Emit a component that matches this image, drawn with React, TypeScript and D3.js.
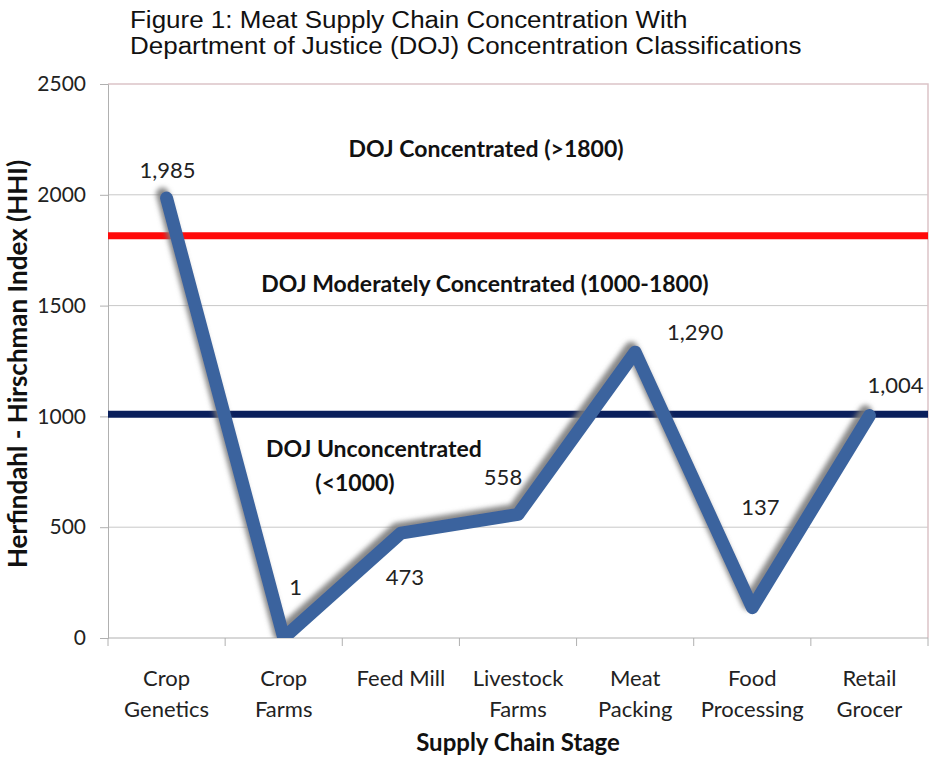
import React, { useEffect, useRef } from "react";
import * as d3 from "d3";

const stages = [
  ["Crop", "Genetics"],
  ["Crop", "Farms"],
  ["Feed Mill"],
  ["Livestock", "Farms"],
  ["Meat", "Packing"],
  ["Food", "Processing"],
  ["Retail", "Grocer"],
];
const hhi = [1985, 1, 473, 558, 1290, 137, 1004];
const yTicks = [0, 500, 1000, 1500, 2000, 2500];
const concentratedLine = 1815; // DOJ >1800 threshold as drawn
const unconcentratedLine = 1010; // DOJ <1000 threshold as drawn

// label placement relative to each point (Excel style)
const labelOffset: [number, number][] = [
  [1, -20],
  [12, -43],
  [4, 52],
  [-15, -29],
  [60, -12],
  [8, -93],
  [26, -23],
];

const App: React.FC = () => {
  const svgRef = useRef<SVGSVGElement | null>(null);

  useEffect(() => {
    const width = 931;
    const height = 757;
    const margin = { top: 84, right: 3, bottom: 119, left: 108 };
    const font = "Lato, 'Noto Sans', sans-serif";

    const svg = d3.select(svgRef.current).attr("width", width).attr("height", height);
    svg.selectAll("*").remove();

    const x = d3
      .scaleBand<number>()
      .domain(d3.range(stages.length))
      .range([margin.left, width - margin.right]);
    const y = d3
      .scaleLinear()
      .domain([0, 2500])
      .range([height - margin.bottom, margin.top]);

    const defs = svg.append("defs");
    const filter = defs
      .append("filter")
      .attr("id", "shadow")
      .attr("x", "-20%")
      .attr("y", "-20%")
      .attr("width", "140%")
      .attr("height", "140%");
    filter
      .append("feDropShadow")
      .attr("dx", -4)
      .attr("dy", -4)
      .attr("stdDeviation", 2.5)
      .attr("flood-color", "#7a7a7a")
      .attr("flood-opacity", 0.9);
    defs
      .append("clipPath")
      .attr("id", "plot")
      .append("rect")
      .attr("x", margin.left)
      .attr("y", margin.top - 10)
      .attr("width", width - margin.left - margin.right)
      .attr("height", y(0) - margin.top + 10);

    // Title (Arial, a little stretched like the original)
    const title = svg
      .append("text")
      .attr("transform", "translate(130,0) scale(1.13,1)")
      .attr("font-family", "'Liberation Sans', Arial, sans-serif")
      .attr("font-size", 23)
      .attr("fill", "#111");
    title.append("tspan").attr("x", 0).attr("y", 28).text("Figure 1: Meat Supply Chain Concentration With");
    title
      .append("tspan")
      .attr("x", 0)
      .attr("y", 54)
      .text("Department of Justice (DOJ) Concentration Classifications");

    // Gridlines
    svg
      .append("g")
      .selectAll("line")
      .data(yTicks.filter((t) => t > 0 && t < 2500))
      .join("line")
      .attr("x1", margin.left)
      .attr("x2", width - margin.right)
      .attr("y1", (d) => y(d))
      .attr("y2", (d) => y(d))
      .attr("stroke", "#c8c8c8")
      .attr("stroke-width", 1);

    // plot border (top / right)
    svg
      .append("path")
      .attr("d", `M${margin.left},${y(2500)}H${width - margin.right}V${y(0)}`)
      .attr("fill", "none")
      .attr("stroke", "#dcc4c8")
      .attr("stroke-width", 1.5);

    // Y axis
    const yAxis = svg
      .append("g")
      .attr("transform", `translate(${margin.left},0)`)
      .call(
        d3
          .axisLeft(y)
          .tickValues(yTicks)
          .tickFormat(d3.format("d"))
          .tickSize(8)
          .tickPadding(14)
      );
    yAxis.select(".domain").attr("stroke", "#b0b0b0");
    yAxis.selectAll(".tick line").attr("stroke", "#b0b0b0");
    yAxis
      .selectAll("text")
      .attr("font-family", font)
      .attr("font-size", 21)
      .attr("fill", "#222");

    // X axis
    const xAxis = svg.append("g").attr("transform", `translate(0,${y(0)})`);
    xAxis
      .append("line")
      .attr("x1", margin.left)
      .attr("x2", width - margin.right)
      .attr("stroke", "#b0b0b0");
    xAxis
      .selectAll(".tk")
      .data(d3.range(stages.length + 1))
      .join("line")
      .attr("class", "tk")
      .attr("x1", (i) => (i < stages.length ? x(i)! : width - margin.right))
      .attr("x2", (i) => (i < stages.length ? x(i)! : width - margin.right))
      .attr("y1", 0)
      .attr("y2", 8)
      .attr("stroke", "#b0b0b0");
    const xl = xAxis
      .selectAll(".lbl")
      .data(stages)
      .join("text")
      .attr("class", "lbl")
      .attr("text-anchor", "middle")
      .attr("font-family", font)
      .attr("font-size", 22)
      .attr("fill", "#222");
    xl.each(function (d, i) {
      const t = d3.select(this);
      d.forEach((line, j) => {
        t.append("tspan")
          .attr("x", x(i)! + x.bandwidth() / 2)
          .attr("y", 48 + j * 31)
          .text(line);
      });
    });

    // Axis titles
    svg
      .append("text")
      .attr("x", (margin.left + width - margin.right) / 2)
      .attr("y", 751)
      .attr("text-anchor", "middle")
      .attr("font-family", font)
      .attr("font-size", 24)
      .attr("font-weight", "bold")
      .attr("fill", "#111")
      .text("Supply Chain Stage");
    svg
      .append("text")
      .attr("transform", `translate(27,364) rotate(-90)`)
      .attr("text-anchor", "middle")
      .attr("font-family", font)
      .attr("font-size", 26)
      .attr("font-weight", "bold")
      .attr("fill", "#111")
      .text("Herfindahl - Hirschman Index (HHI)");

    // DOJ threshold lines
    svg
      .append("line")
      .attr("x1", margin.left)
      .attr("x2", width - margin.right)
      .attr("y1", y(concentratedLine))
      .attr("y2", y(concentratedLine))
      .attr("stroke", "#ff0a0a")
      .attr("stroke-width", 7);
    svg
      .append("line")
      .attr("x1", margin.left)
      .attr("x2", width - margin.right)
      .attr("y1", y(unconcentratedLine))
      .attr("y2", y(unconcentratedLine))
      .attr("stroke", "#0a1f5c")
      .attr("stroke-width", 7);

    // Region annotations
    const notes = [
      { text: "DOJ Concentrated (>1800)", cx: 486, y: 157 },
      { text: "DOJ Moderately Concentrated (1000-1800)", cx: 485, y: 292 },
      { text: "DOJ Unconcentrated", cx: 374, y: 457 },
      { text: "(<1000)", cx: 355, y: 491 },
    ];
    svg
      .append("g")
      .selectAll("text")
      .data(notes)
      .join("text")
      .attr("x", (n) => n.cx)
      .attr("y", (n) => n.y)
      .attr("text-anchor", "middle")
      .attr("font-family", font)
      .attr("font-size", 23)
      .attr("font-weight", "bold")
      .attr("fill", "#111")
      .text((n) => n.text);

    // Series line
    const line = d3
      .line<number>()
      .x((_, i) => x(i)! + x.bandwidth() / 2)
      .y((d) => y(d));
    svg
      .append("g")
      .attr("clip-path", "url(#plot)")
      .append("path")
      .datum(hhi)
      .attr("d", line)
      .attr("fill", "none")
      .attr("stroke", "#3b649e")
      .attr("stroke-width", 13)
      .attr("stroke-linejoin", "round")
      .attr("stroke-linecap", "round")
      .attr("filter", "url(#shadow)");

    // Data labels
    svg
      .append("g")
      .selectAll("text")
      .data(hhi)
      .join("text")
      .attr("x", (_, i) => x(i)! + x.bandwidth() / 2 + labelOffset[i][0])
      .attr("y", (d, i) => y(d) + labelOffset[i][1])
      .attr("text-anchor", "middle")
      .attr("font-family", font)
      .attr("font-size", 22)
      .attr("fill", "#222")
      .text((d) => d3.format(",")(d));
  }, []);

  return (
    <svg
      ref={svgRef}
      style={{ position: "absolute", left: 0, top: 0, background: "#fff" }}
    ></svg>
  );
};

export default App;
